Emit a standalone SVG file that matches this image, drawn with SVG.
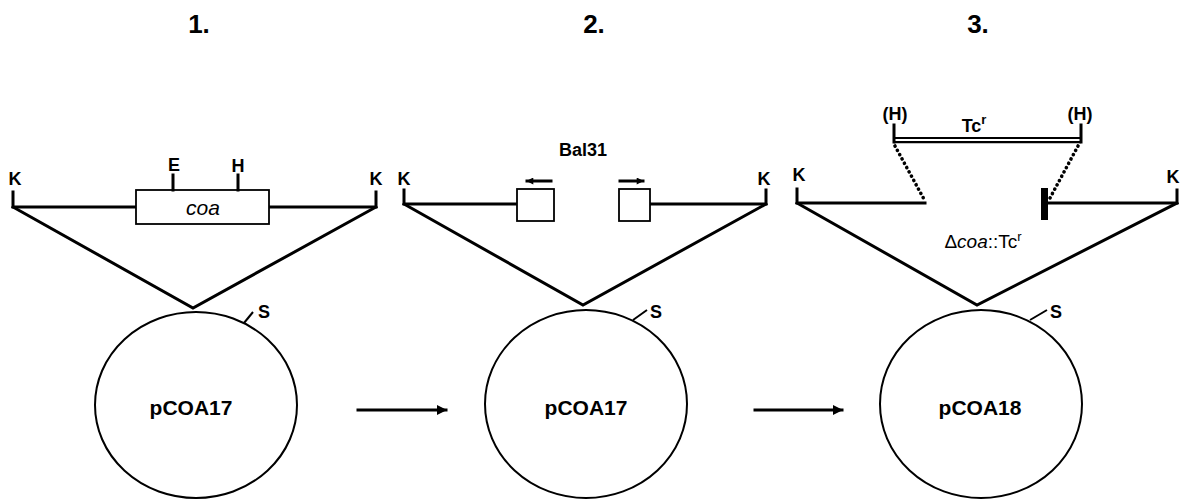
<svg xmlns="http://www.w3.org/2000/svg" width="1180" height="499" viewBox="0 0 1180 499">
  <defs>
    <style>
      .ln { stroke: #000; stroke-width: 3; fill: none; stroke-linecap: square; }
      .thin { stroke: #000; stroke-width: 2; fill: none; }
      .box { stroke: #000; stroke-width: 1.8; fill: #fff; }
      .lbl { font-family: "Liberation Sans", Arial, sans-serif; font-weight: bold; font-size: 18px; fill: #000; text-anchor: middle; }
      .ttl { font-family: "Liberation Sans", Arial, sans-serif; font-weight: bold; font-size: 26px; fill: #000; text-anchor: middle; }
      .pl { font-family: "Liberation Sans", Arial, sans-serif; font-weight: bold; font-size: 21px; fill: #000; text-anchor: middle; }
      .dot { stroke: #000; stroke-width: 3.6; stroke-dasharray: 0.1 4.8; stroke-linecap: round; fill: none; }
    </style>
    <marker id="head" viewBox="0 0 10 10" refX="9" refY="5" markerWidth="14" markerHeight="10" markerUnits="userSpaceOnUse" orient="auto">
      <path d="M0,0 L10,5 L0,10 z" fill="#000"/>
    </marker>
    <marker id="small" viewBox="0 0 10 10" refX="9" refY="5" markerWidth="9" markerHeight="7" markerUnits="userSpaceOnUse" orient="auto">
      <path d="M0,0 L10,5 L0,10 z" fill="#000"/>
    </marker>
  </defs>
  <rect width="1180" height="499" fill="#fff"/>

  <!-- step numbers -->
  <text class="ttl" x="199" y="33">1.</text>
  <text class="ttl" x="594" y="33">2.</text>
  <text class="ttl" x="978" y="33">3.</text>

  <!-- step 1: pCOA17 with the coa insert -->
  <g id="step1">
    <ellipse class="thin" cx="196" cy="405" rx="101" ry="93"/>
    <text class="pl" x="191" y="415">pCOA17</text>
    <path class="thin" d="M244,323 L253,312"/>
    <text class="lbl" x="264" y="318">S</text>
    <path class="ln" d="M13,192 L13,207 L136,207 M269,207 L376,207 L376,192"/>
    <path class="ln" d="M13,207 L193,308 L376,207"/>
    <rect class="box" x="136" y="190" width="133" height="34"/>
    <text x="203" y="215" font-family="Liberation Sans, Arial, sans-serif" font-style="italic" font-size="21" text-anchor="middle">coa</text>
    <path class="ln" d="M173,175 L173,190 M238,175 L238,190"/>
    <text class="lbl" x="174" y="171">E</text>
    <text class="lbl" x="238" y="172">H</text>
    <text class="lbl" x="15" y="185">K</text>
    <text class="lbl" x="376" y="185">K</text>
  </g>

  <!-- step 2: Bal31 digestion -->
  <g id="step2">
    <ellipse class="thin" cx="586" cy="404" rx="101" ry="94"/>
    <text class="pl" x="586" y="415">pCOA17</text>
    <path class="thin" d="M633,320 L647,310"/>
    <text class="lbl" x="656" y="318">S</text>
    <path class="ln" d="M404,190 L404,204 L517,204 M650,204 L766,204 L766,190"/>
    <path class="ln" d="M404,204 L583,305 L766,204"/>
    <rect class="box" x="517" y="189" width="37" height="32"/>
    <rect class="box" x="619" y="189" width="31" height="32"/>
    <path class="ln" d="M551,181 L527,181" marker-end="url(#small)"/>
    <path class="ln" d="M620,181 L643,181" marker-end="url(#small)"/>
    <text class="lbl" x="583" y="156" font-size="18">Bal31</text>
    <text class="lbl" x="404" y="185">K</text>
    <text class="lbl" x="764" y="185">K</text>
  </g>

  <!-- step 3: Tc resistance cassette insertion -->
  <g id="step3">
    <ellipse class="thin" cx="981" cy="404" rx="101" ry="94"/>
    <text class="pl" x="980" y="415">pCOA18</text>
    <path class="thin" d="M1030,320 L1047,310"/>
    <text class="lbl" x="1056" y="318">S</text>
    <path class="ln" d="M797,189 L797,203 L925,203 M1048,203 L1177,203 L1177,190"/>
    <path class="ln" d="M797,203 L977,305 L1177,203"/>
    <rect x="1041" y="188" width="7" height="32" fill="#000"/>
    <path class="dot" d="M895,146 L925,201"/>
    <path class="dot" d="M1078,146 L1050,198"/>
    <path class="ln" d="M894,125 L894,142 M1081,125 L1081,142"/>
    <path stroke="#000" stroke-width="2.2" fill="none" d="M894,138 L1081,138 M894,142.2 L1081,142.2"/>
    <text class="lbl" x="895" y="120">(H)</text>
    <text class="lbl" x="1080" y="120">(H)</text>
    <text class="lbl" x="974" y="132" font-size="20">Tc<tspan font-size="13" dy="-8">r</tspan></text>
    <text x="983" y="248" font-family="Liberation Sans, Arial, sans-serif" font-size="19" text-anchor="middle">Δ<tspan font-style="italic">coa</tspan>::Tc<tspan font-size="13" dy="-7">r</tspan></text>
    <text class="lbl" x="799" y="181">K</text>
    <text class="lbl" x="1173" y="183" text-anchor="start">K</text>
  </g>

  <!-- process arrows -->
  <g id="connectors">
    <path class="ln" d="M358,410 L446,410" marker-end="url(#head)"/>
    <path class="ln" d="M755,410 L842,410" marker-end="url(#head)"/>
  </g>
</svg>
